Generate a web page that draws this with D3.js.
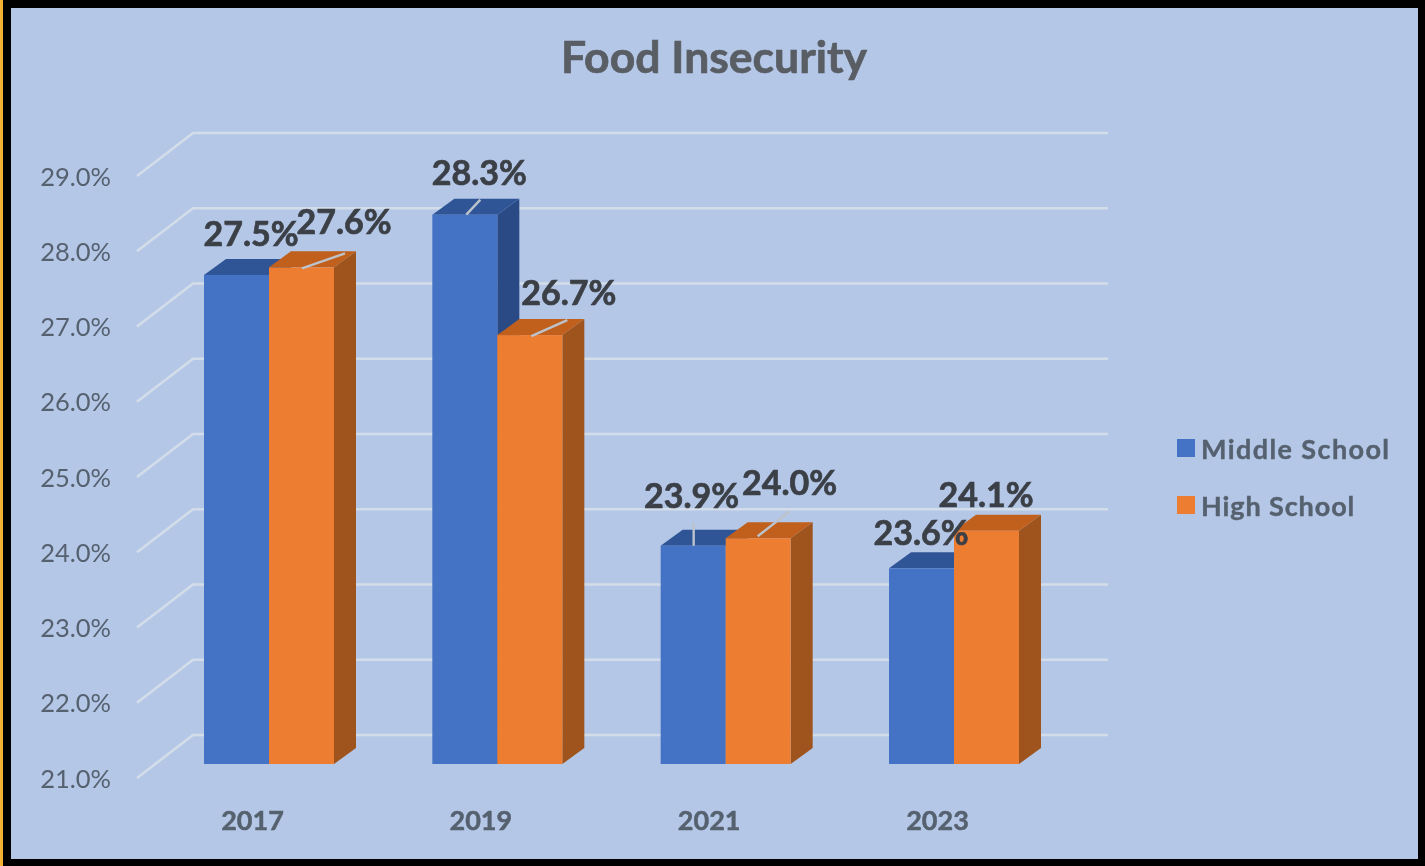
<!DOCTYPE html>
<html>
<head>
<meta charset="utf-8">
<script src="https://cdn.jsdelivr.net/npm/d3@7"></script>
<style>
html,body{margin:0;padding:0;background:#000;overflow:hidden}
svg{display:block;font-family:Lato,"Open Sans",sans-serif;filter:blur(0.7px)}
svg text{font-family:Lato,"Open Sans",sans-serif}
</style>
</head>
<body>
<svg id="chart" width="1425" height="866"></svg>
<script>
const title = "Food Insecurity";
const years = ["2017","2019","2021","2023"];
const middleSchool = [27.5,28.3,23.9,23.6];
const highSchool = [27.6,26.7,24.0,24.1];
const ticks = [21,22,23,24,25,26,27,28,29];
const seriesNames = ["Middle School","High School"];

const C = {bg:"#b4c7e7",grid:"#d3dde9",tick:"#56616f",val:"#3b3f46",
  faces:[{front:"#4472c4",top:"#2f5597",side:"#2a4a85"},
         {front:"#ed7d31",top:"#c0601c",side:"#9e541c"}]};
const depth = {dx:22,dy:16};
const wall = {dx:56,dy:29};      // front plane to back wall of the grid
const barW = 65;
const legendTracking = [1.4,0.9];

const svg = d3.select("#chart");
// frame
svg.append("rect").attr("width",1425).attr("height",866).attr("fill","#000");
svg.append("rect").attr("x",0).attr("y",0).attr("width",3).attr("height",866).attr("fill","#f2b134");
svg.append("rect").attr("x",11).attr("y",8).attr("width",1407).attr("height",851).attr("fill",C.bg);

const y = d3.scaleLinear().domain([21,29]).range([764,162]);
const x = d3.scalePoint().domain(years).range([269,954]);

// grid: side-wall diagonal + back wall line
const grid = svg.append("g");
ticks.forEach(t=>{
  const yb = y(t)-wall.dy;
  grid.append("path")
    .attr("d",`M137,${yb+43}L193,${yb}L1108,${yb}`)
    .attr("fill","none").attr("stroke",C.grid).attr("stroke-width",2.6);
});

// value axis
const yAxis = d3.axisLeft(y).tickValues(ticks).tickFormat(d=>d3.format(".1f")(d)+"%").tickSize(0);
const yG = svg.append("g").attr("transform","translate(111,15)").call(yAxis);
yG.select(".domain").remove();
yG.selectAll("text").attr("x",0).attr("fill",C.tick).style("font-size","25.5px");

// category labels
const xAxis = d3.axisBottom(x).tickSize(0);
const xG = svg.append("g").attr("transform","translate(-17,819)").call(xAxis);
xG.select(".domain").remove();
xG.selectAll("text").attr("y",0).attr("dy",0).attr("dominant-baseline","central").attr("fill",C.tick)
  .attr("stroke",C.tick).attr("stroke-width",0.5)
  .style("font-size","27px").style("font-weight","700");

// bars
const series = [middleSchool,highSchool];
years.forEach((yr,i)=>{
  series.forEach((vals,s)=>{
    const x0 = x(yr)+(s-1)*barW, x1 = x0+barW, y0 = y(21), yt = y(vals[i]);
    const f = C.faces[s], g = svg.append("g");
    g.append("path").attr("fill",f.side)
      .attr("d",`M${x1},${yt}L${x1+depth.dx},${yt-depth.dy}L${x1+depth.dx},${y0-depth.dy}L${x1},${y0}Z`);
    g.append("path").attr("fill",f.top)
      .attr("d",`M${x0},${yt}L${x0+depth.dx},${yt-depth.dy}L${x1+depth.dx},${yt-depth.dy}L${x1},${yt}Z`);
    g.append("rect").attr("fill",f.front).attr("x",x0).attr("y",yt).attr("width",barW).attr("height",y0-yt);
  });
});

// data-label placement relative to each bar's front-top-left corner: [dx of label centre, dy of label centre]
const labelOffset = [
  [[47,-42],[75,-47]],
  [[47,-43],[71.5,-44]],
  [[31,-51],[64,-57]],
  [[32,-37],[32,-37]]
];
// leader lines relative to the same corner, null where none is drawn
const leaderOffset = [
  [null,[33,1,76,-14]],
  [[34,0,48,-15],[34,1,70,-15]],
  [[33,0,33,-23],[32,-2,64,-27]],
  [null,null]
];
const labels = svg.append("g");
years.forEach((yr,i)=>{
  series.forEach((vals,s)=>{
    const x0 = x(yr)+(s-1)*barW, yt = y(vals[i]);
    const l = leaderOffset[i][s];
    if(l) labels.append("line").attr("x1",x0+l[0]).attr("y1",yt+l[1]).attr("x2",x0+l[2]).attr("y2",yt+l[3])
      .attr("stroke","#bcc3cc").attr("stroke-width",2.4);
  });
});
years.forEach((yr,i)=>{
  series.forEach((vals,s)=>{
    const x0 = x(yr)+(s-1)*barW, yt = y(vals[i]), o = labelOffset[i][s];
    labels.append("text").attr("x",x0+o[0]).attr("y",yt+o[1]).attr("text-anchor","middle")
      .attr("dominant-baseline","central").attr("fill",C.val).attr("stroke",C.val).attr("stroke-width",0.7)
      .style("font-size","34px").style("font-weight","700").text(d3.format(".1f")(vals[i])+"%");
  });
});

// title
svg.append("text").attr("x",714).attr("y",55).attr("text-anchor","middle").attr("dominant-baseline","central")
  .attr("fill","#595d64").attr("stroke","#595d64").attr("stroke-width",0.7)
  .style("font-size","44.5px").style("font-weight","700").text(title);

// legend
const lg = svg.append("g").attr("transform","translate(1177,439)");
seriesNames.forEach((n,s)=>{
  const g = lg.append("g").attr("transform",`translate(0,${s*57})`);
  g.append("rect").attr("width",18).attr("height",18).attr("fill",C.faces[s].front);
  g.append("text").attr("x",24).attr("y",9).attr("dominant-baseline","central").attr("fill",C.tick)
    .attr("stroke",C.tick).attr("stroke-width",0.4)
    .style("letter-spacing",legendTracking[s]+"px")
    .style("font-size","27px").style("font-weight","700").text(n);
});
</script>
</body>
</html>
